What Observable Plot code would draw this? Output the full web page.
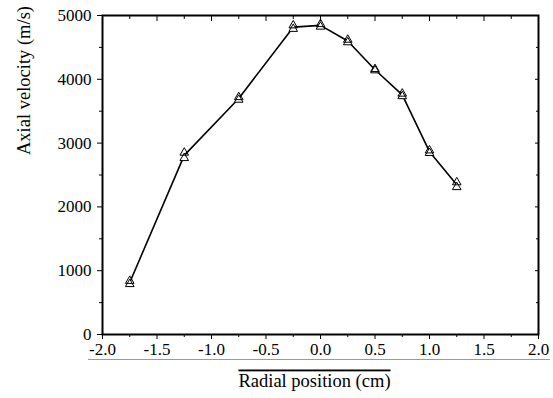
<!DOCTYPE html>
<html>
<head>
<meta charset="utf-8">
<script src="https://cdn.jsdelivr.net/npm/d3@7"></script>
<script src="https://cdn.jsdelivr.net/npm/@observablehq/plot@0.6"></script>
<style>
  html, body { margin: 0; padding: 0; background: white; }
  svg text { font-family: 'Liberation Serif', 'Times New Roman', serif !important; }
</style>
</head>
<body>
<div id="chart"></div>
<script>
const radialPosition = [-1.75, -1.25, -0.75, -0.25, 0, 0.25, 0.5, 0.75, 1.0, 1.25];
const velocityA = [840, 2850, 3720, 4845, 4865, 4620, 4160, 3775, 2885, 2385];
const velocityB = [790, 2765, 3680, 4790, 4825, 4580, 4140, 3735, 2845, 2310];
const xMajorTicks = [-2.0, -1.5, -1.0, -0.5, 0.0, 0.5, 1.0, 1.5, 2.0];
const xMinorTicks = [-1.75, -1.25, -0.75, -0.25, 0.25, 0.75, 1.25, 1.75];
const yMajorTicks = [0, 1000, 2000, 3000, 4000, 5000];
const yMinorTicks = [500, 1500, 2500, 3500, 4500];
const xTitle = "Radial position (cm)";
const yTitle = "Axial velocity (m/s)";

const seriesA = radialPosition.map((x, i) => ({x, v: velocityA[i]}));
const seriesB = radialPosition.map((x, i) => ({x, v: velocityB[i]}));
const lineData = radialPosition.map((x, i) => ({x, v: (velocityA[i] + velocityB[i]) / 2}));

const serif = "'Liberation Serif', 'Times New Roman', serif";

const chart = Plot.plot({
  width: 553,
  height: 398,
  marginLeft: 102,
  marginRight: 15,
  marginTop: 15,
  marginBottom: 64,
  style: {fontFamily: serif, fontSize: "17px", color: "black", background: "white"},
  x: {domain: [-2, 2]},
  y: {domain: [0, 5000]},
  marks: [
    Plot.axisX(xMajorTicks, {anchor: "bottom", tickSize: 5, tickPadding: 3, tickFormat: d => d.toFixed(1), label: null, fontFamily: serif, fontSize: 17}),
    Plot.axisX(xMinorTicks, {anchor: "bottom", tickSize: 3, text: null, label: null}),
    Plot.axisX(xMajorTicks, {anchor: "top", tickSize: -5, text: null, label: null}),
    Plot.axisX(xMinorTicks, {anchor: "top", tickSize: -3, text: null, label: null}),
    Plot.axisY(yMajorTicks, {anchor: "left", tickSize: 5, tickPadding: 6, tickFormat: d => String(d), label: null, fontFamily: serif, fontSize: 17}),
    Plot.axisY(yMinorTicks, {anchor: "left", tickSize: 3, text: null, label: null}),
    Plot.axisY(yMajorTicks, {anchor: "right", tickSize: -4, text: null, label: null}),
    Plot.axisY(yMinorTicks, {anchor: "right", tickSize: -3, text: null, label: null}),
    Plot.frame({stroke: "black", strokeWidth: 2}),
    Plot.ruleY([0], {dy: 25, insetLeft: -14, insetRight: -12, stroke: "#9a9a9a", strokeWidth: 1}),
    Plot.line(lineData, {x: "x", y: "v", stroke: "black", strokeWidth: 1.6}),
    Plot.dot(seriesB, {x: "x", y: "v", symbol: "triangle", r: 3.2, stroke: "black", strokeWidth: 1, fill: "white"}),
    Plot.dot(seriesA, {x: "x", y: "v", symbol: "triangle", r: 3.2, stroke: "black", strokeWidth: 1, fill: "none"}),
    Plot.text([xTitle], {frameAnchor: "bottom", text: d => d, dx: -6, dy: 52, fontSize: 18.5, fontFamily: serif, fill: "black", className: "xtitle"}),
    Plot.text([yTitle], {frameAnchor: "left", text: d => d, rotate: -90, dx: -78, dy: -20, fontSize: 18.5, fontFamily: serif, fill: "black"})
  ]
});
document.getElementById("chart").appendChild(chart);
d3.select(chart).selectAll(".xtitle text").attr("text-decoration", "overline");
</script>
</body>
</html>
